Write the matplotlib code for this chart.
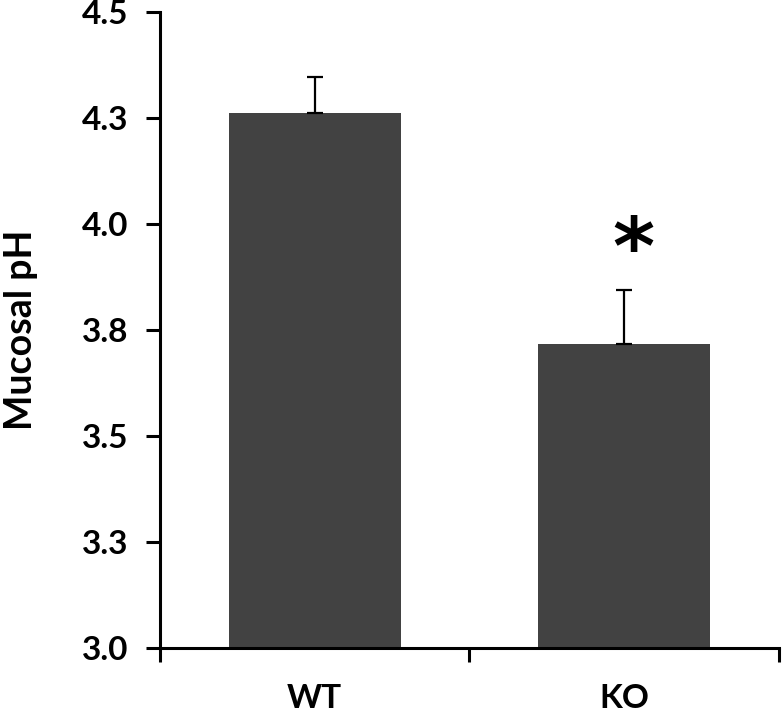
import matplotlib
matplotlib.use("Agg")
import matplotlib.pyplot as plt
import numpy as np

# data
groups = ["WT", "KO"]
ph_mean = [4.262, 3.716]
ph_err = [0.085, 0.128]
ytick_vals = [3.0, 3.25, 3.5, 3.75, 4.0, 4.25, 4.5]
ytick_labels = ["3.0", "3.3", "3.5", "3.8", "4.0", "4.3", "4.5"]

plt.rcParams['font.family'] = ['Lato', 'DejaVu Sans']
plt.rcParams['font.weight'] = 'bold'

fig = plt.figure(figsize=(7.83, 7.16), dpi=100)
ax = fig.add_axes([0.2043, 0.095, 0.7906, 0.8882])

x = np.arange(len(groups))
ax.bar(x, ph_mean, width=0.556, color='#424242', bottom=0)
ax.errorbar(x, ph_mean, yerr=[[0, 0], ph_err], fmt='none', ecolor='black',
            elinewidth=1.6, capsize=6, capthick=1.6)

# significance star above KO
ax.text(x[1] + 0.03, ph_mean[1] + ph_err[1] + 0.09, "*", ha='center', va='center',
        fontsize=58, fontweight='bold', family='DejaVu Sans')

ax.set_xlim(-0.5, 1.5)
ax.set_ylim(3.0, 4.5)
ax.set_yticks(ytick_vals)
ax.set_yticklabels(ytick_labels, fontsize=24, fontweight='bold')
ax.set_xticks([-0.5, 0.5, 1.5])
ax.set_xticklabels([])
ax.set_xticks(x, minor=True)
ax.set_xticklabels(groups, minor=True, fontsize=24, fontweight='bold')
ax.tick_params(axis='x', which='minor', length=0, pad=26)
ax.tick_params(axis='x', which='major', direction='out', length=10, width=2.2)
ax.tick_params(axis='y', direction='out', length=10, width=2.2, pad=13)

ax.set_ylabel("Mucosal pH", fontsize=27, fontweight='bold')
ax.yaxis.set_label_coords(-0.197, 0.5)

for side in ['top', 'right']:
    ax.spines[side].set_visible(False)
for side in ['left', 'bottom']:
    ax.spines[side].set_linewidth(2.2)

fig.savefig("out.png", dpi=100)
